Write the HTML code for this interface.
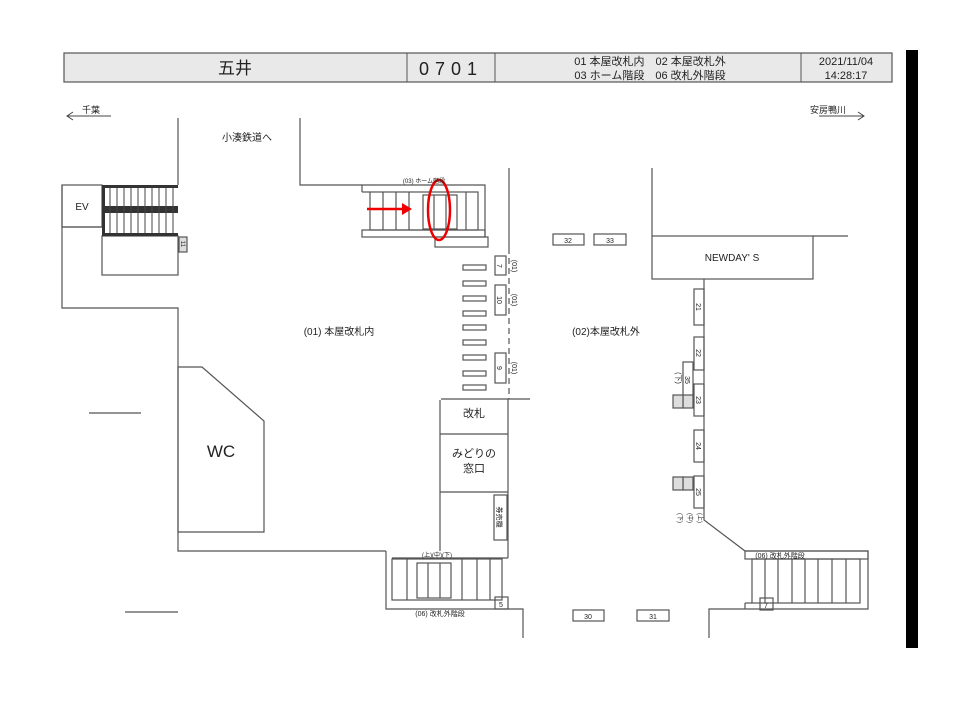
<!DOCTYPE html>
<html><head><meta charset="utf-8"><style>
html,body{margin:0;padding:0;background:#fff;}
svg{display:block;}
text{font-family:"Liberation Sans","Noto Sans CJK JP",sans-serif;fill:#222;}
</style></head><body>
<svg width="960" height="720" viewBox="0 0 960 720" xmlns="http://www.w3.org/2000/svg">
<rect x="0" y="0" width="960" height="720" fill="#fff"/>
<!-- header -->
<rect x="64" y="53" width="828" height="29" fill="#e9e9e9" stroke="#555" stroke-width="1.2"/>
<line x1="407" y1="53" x2="407" y2="82" stroke="#555"/>
<line x1="495" y1="53" x2="495" y2="82" stroke="#555"/>
<line x1="801" y1="53" x2="801" y2="82" stroke="#555"/>
<text x="235" y="74" font-size="17" text-anchor="middle">五井</text>
<text x="451" y="75" font-size="18" text-anchor="middle" letter-spacing="6">0701</text>
<text x="650" y="65" font-size="11" text-anchor="middle">01 本屋改札内　02 本屋改札外</text>
<text x="650" y="79" font-size="11" text-anchor="middle">03 ホーム階段　06 改札外階段</text>
<text x="846" y="65" font-size="11" text-anchor="middle">2021/11/04</text>
<text x="846" y="79" font-size="11" text-anchor="middle">14:28:17</text>
<rect x="906" y="50" width="12" height="598" fill="#000"/>
<!-- direction arrows -->
<text x="82" y="113" font-size="9">千葉</text>
<line x1="67" y1="116" x2="111" y2="116" stroke="#444"/>
<polyline points="73,112 67,116 73,120" fill="none" stroke="#444"/>
<text x="810" y="113" font-size="9">安房鴨川</text>
<line x1="819" y1="116" x2="864" y2="116" stroke="#444"/>
<polyline points="858,112 864,116 858,120" fill="none" stroke="#444"/>
<g stroke="#555" stroke-width="1.2" fill="none">
<!-- walls -->
<polyline points="178,118 178,185"/>
<polyline points="300,118 300,185 362,185"/>
<polyline points="62,185 62,308 178,308 178,551 386,551"/>
<rect x="62" y="185" width="40" height="42"/>
<polyline points="62,227 102,227"/>
<rect x="102" y="236" width="76" height="39"/>
<rect x="179" y="237" width="8" height="15" fill="#ddd"/>
<!-- WC -->
<polygon points="178,367 202,367 264,421 264,532 178,532"/>
<line x1="89" y1="413" x2="141" y2="413"/>
<line x1="125" y1="612" x2="178" y2="612"/>
<!-- home stairs -->
<polyline points="362,192 362,185 485,185 485,237"/>
<rect x="370" y="192" width="108" height="38"/>
<polyline points="362,192 370,192"/>
<rect x="362" y="230" width="123" height="7"/>
<rect x="435" y="237" width="53" height="10"/>
<line x1="383" y1="192" x2="383" y2="230"/><line x1="396" y1="192" x2="396" y2="230"/><line x1="409" y1="192" x2="409" y2="230"/><line x1="466" y1="192" x2="466" y2="230"/>
<rect x="423" y="195" width="34" height="34"/>
<line x1="434" y1="195" x2="434" y2="229"/><line x1="446" y1="195" x2="446" y2="229"/>
<!-- center line -->
<line x1="509" y1="168" x2="509" y2="248"/>
<line x1="509" y1="248" x2="509" y2="399" stroke-dasharray="6,4"/>
<line x1="441" y1="399" x2="530" y2="399"/>
<polyline points="440,400 440,551"/>
<polyline points="508,399 508,558"/>
<line x1="440" y1="434" x2="508" y2="434"/>
<line x1="440" y1="492" x2="508" y2="492"/>
<rect x="494" y="495" width="13" height="45"/>
<!-- gates -->
<rect x="463" y="265" width="23" height="5"/><rect x="463" y="281" width="23" height="5"/><rect x="463" y="296" width="23" height="5"/><rect x="463" y="311" width="23" height="5"/><rect x="463" y="325" width="23" height="5"/><rect x="463" y="340" width="23" height="5"/><rect x="463" y="355" width="23" height="5"/><rect x="463" y="371" width="23" height="5"/><rect x="463" y="385" width="23" height="5"/>
<rect x="495" y="256" width="11" height="19"/>
<rect x="495" y="285" width="11" height="30"/>
<rect x="495" y="353" width="11" height="30"/>
<!-- lower stairs left -->
<polyline points="386,551 386,609 523,609 523,638"/>
<polyline points="392,558 508,558"/>
<rect x="392" y="559" width="110" height="41"/>
<line x1="407" y1="559" x2="407" y2="600"/><line x1="462" y1="559" x2="462" y2="600"/><line x1="477" y1="559" x2="477" y2="600"/><line x1="490" y1="559" x2="490" y2="600"/>
<rect x="417" y="563" width="34" height="35"/>
<line x1="428" y1="563" x2="428" y2="598"/><line x1="440" y1="563" x2="440" y2="598"/>
<rect x="495" y="597" width="13" height="12"/>
<rect x="573" y="610" width="31" height="11"/>
<rect x="637" y="610" width="32" height="11"/>
<!-- right side -->
<polyline points="652,168 652,236"/>
<rect x="652" y="236" width="161" height="43"/>
<line x1="813" y1="236" x2="848" y2="236"/>
<rect x="553" y="234" width="31" height="11"/>
<rect x="594" y="234" width="32" height="11"/>
<polyline points="704,279 704,520 745,551 868,551 868,609 709,609 709,638"/>
<rect x="745" y="551" width="123" height="8"/>
<rect x="752" y="559" width="108" height="44"/>
<line x1="745" y1="603" x2="752" y2="603"/>
<line x1="745" y1="603" x2="745" y2="609"/>
<line x1="765" y1="559" x2="765" y2="603"/><line x1="778" y1="559" x2="778" y2="603"/><line x1="792" y1="559" x2="792" y2="603"/><line x1="805" y1="559" x2="805" y2="603"/><line x1="818" y1="559" x2="818" y2="603"/><line x1="832" y1="559" x2="832" y2="603"/><line x1="846" y1="559" x2="846" y2="603"/>
<rect x="760" y="598" width="13" height="12"/>
<rect x="694" y="289" width="10" height="36"/>
<rect x="694" y="337" width="10" height="33"/>
<rect x="683" y="362" width="10" height="36"/>
<rect x="694" y="384" width="10" height="32"/>
<rect x="683" y="395" width="10" height="13" fill="#ddd"/>
<rect x="673" y="395" width="10" height="13" fill="#ddd"/>
<rect x="694" y="430" width="10" height="32"/>
<rect x="694" y="476" width="10" height="32"/>
<rect x="683" y="477" width="10" height="13" fill="#ddd"/>
<rect x="673" y="477" width="10" height="13" fill="#ddd"/>
</g>
<!-- escalator left -->
<g fill="#333">
<rect x="102" y="185" width="3" height="51"/>
<rect x="102" y="185" width="76" height="3"/>
<rect x="102" y="206" width="76" height="7"/>
<rect x="102" y="233" width="76" height="3"/>
</g>
<g stroke="#444" stroke-width="1">
<line x1="110" y1="188" x2="110" y2="233"/><line x1="117" y1="188" x2="117" y2="233"/><line x1="124" y1="188" x2="124" y2="233"/><line x1="131" y1="188" x2="131" y2="233"/><line x1="138" y1="188" x2="138" y2="233"/><line x1="145" y1="188" x2="145" y2="233"/><line x1="152" y1="188" x2="152" y2="233"/><line x1="159" y1="188" x2="159" y2="233"/><line x1="166" y1="188" x2="166" y2="233"/><line x1="173" y1="188" x2="173" y2="233"/>
</g>
<!-- red marks -->
<line x1="367" y1="209" x2="404" y2="209" stroke="#e00" stroke-width="2.5"/>
<polygon points="402,203 412,209 402,215" fill="#e00"/>
<ellipse cx="439" cy="210" rx="11" ry="30" fill="none" stroke="#e00" stroke-width="2.5"/>
<!-- labels -->
<text x="82" y="210" font-size="10" text-anchor="middle">EV</text>
<text x="247" y="141" font-size="10" text-anchor="middle">小湊鉄道へ</text>
<text x="424" y="183" font-size="6" text-anchor="middle">(03) ホーム階段</text>
<text x="339" y="335" font-size="10" text-anchor="middle">(01) 本屋改札内</text>
<text x="606" y="335" font-size="10" text-anchor="middle">(02)本屋改札外</text>
<text x="221" y="457" font-size="17" text-anchor="middle">WC</text>
<text x="474" y="417" font-size="11" text-anchor="middle">改札</text>
<text x="474" y="457" font-size="11" text-anchor="middle">みどりの</text>
<text x="474" y="472" font-size="11" text-anchor="middle">窓口</text>
<text x="732" y="261" font-size="10" text-anchor="middle">NEWDAY' S</text>
<text x="440" y="616" font-size="7" text-anchor="middle">(06) 改札外階段</text>
<text x="780" y="558" font-size="7" text-anchor="middle">(06) 改札外階段</text>
<text x="437" y="557" font-size="6" text-anchor="middle">(上)(中)(下)</text>
<g font-size="7" text-anchor="middle">
<text x="501" y="607">5</text><text x="766" y="608">7</text>
<text x="588" y="619">30</text><text x="653" y="619">31</text>
<text x="568" y="243">32</text><text x="610" y="243">33</text>
</g>
<g font-size="7" text-anchor="middle">
<text transform="translate(497,266) rotate(90)">7</text>
<text transform="translate(497,300) rotate(90)">10</text>
<text transform="translate(497,368) rotate(90)">9</text>
<text transform="translate(512,266) rotate(90)">(01)</text>
<text transform="translate(512,300) rotate(90)">(01)</text>
<text transform="translate(512,368) rotate(90)">(01)</text>
<text transform="translate(696,307) rotate(90)">21</text>
<text transform="translate(696,353) rotate(90)">22</text>
<text transform="translate(685,380) rotate(90)">35</text>
<text transform="translate(696,400) rotate(90)">23</text>
<text transform="translate(696,446) rotate(90)">24</text>
<text transform="translate(696,492) rotate(90)">25</text>
<text transform="translate(676,378) rotate(90)">(下)</text>
<text transform="translate(497,517) rotate(90)">券売機</text>
<text transform="translate(181,244) rotate(90)" font-size="6">11</text>
<text transform="translate(698,518) rotate(90)" font-size="6">(上)</text>
<text transform="translate(688,518) rotate(90)" font-size="6">(中)</text>
<text transform="translate(678,518) rotate(90)" font-size="6">(下)</text>
</g>
</svg>
</body></html>
